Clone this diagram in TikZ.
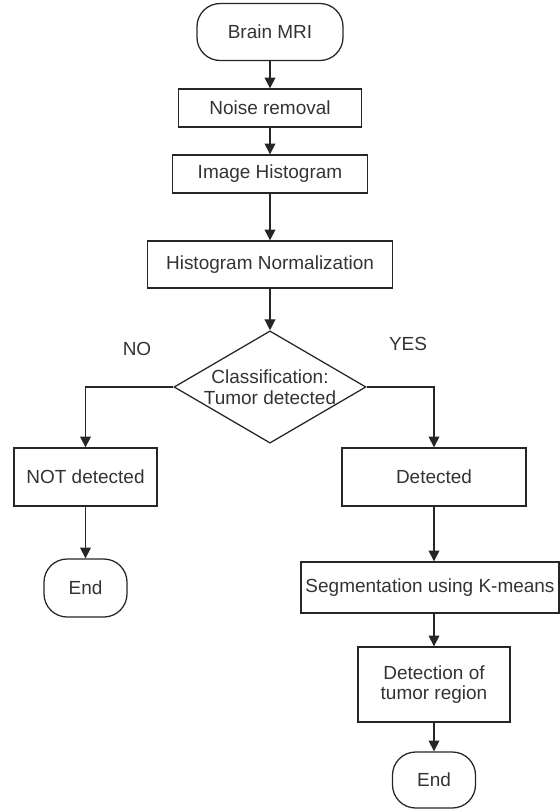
\documentclass[tikz,border=0pt]{standalone}
\usepackage{fontspec}
\setmainfont{Liberation Sans}
\usetikzlibrary{shapes.geometric,arrows.meta}

\tikzset{
  procbox/.style={draw=black!85, line width=0.9pt, rectangle, inner sep=2pt, align=center,
    text=black!80, font=\fontsize{13.5}{14.6}\selectfont},
  termbox/.style={procbox, rounded corners=0.58cm},
  decbox/.style={procbox, diamond, aspect=1.7, inner sep=0pt},
  flow/.style={draw=black!85, line width=0.8pt, -{Triangle[length=2.7mm,width=2.7mm]}},
  answer/.style={text=black!80, font=\fontsize{13.5}{14.6}\selectfont}
}

\begin{document}
\begin{tikzpicture}[x=0.025cm,y=-0.025cm]
\useasboundingbox (0,0) rectangle (560,811);
% start and the two ends
\node [termbox, minimum width=3.65cm, minimum height=1.425cm] (brain) at (270,32) {Brain MRI};
\node [termbox, minimum width=2.075cm, minimum height=1.45cm] (endl) at (85.5,588) {End};
\node [termbox, minimum width=2.075cm, minimum height=1.4cm] (endr) at (434,780) {End};
% process steps
\foreach \name/\x/\y/\bw/\bh/\txt in {noise/270/108/4.575/0.95/{Noise removal},
  hist/270/174/4.875/0.95/{Image Histogram},
  norm/270/264.5/6.125/1.175/{Histogram Normalization},
  notdet/85.5/477/3.575/1.45/{NOT detected},
  det/434/477/4.6/1.45/{Detected},
  segm/430/587.5/6.45/1.275/{Segmentation using K-means},
  region/434/684.5/3.8/1.875/{Detection of\\tumor region}}{
  \node [procbox, minimum width=\bw cm, minimum height=\bh cm] (\name) at (\x,\y) {\txt};
  }
\node [decbox, minimum width=4.8cm, minimum height=2.8cm] (classif) at (270,387) {Classification:\\Tumor detected};
\node [answer] (no) at (137,349) {NO};
\node [answer] (yes) at (408,344) {YES};
% connectors
\foreach \a/\b in {brain/noise,noise/hist,hist/norm,norm/classif,notdet/endl,region/endr}
  \draw [flow] (\a) -- (\b);
\draw [flow] (classif.west) -| (notdet.north);
\draw [flow] (classif.east) -| (det.north);
\draw [flow] (det.south) -- (det.south |- segm.north);
\draw [flow] (region.north |- segm.south) -- (region.north);
\end{tikzpicture}
\end{document}
